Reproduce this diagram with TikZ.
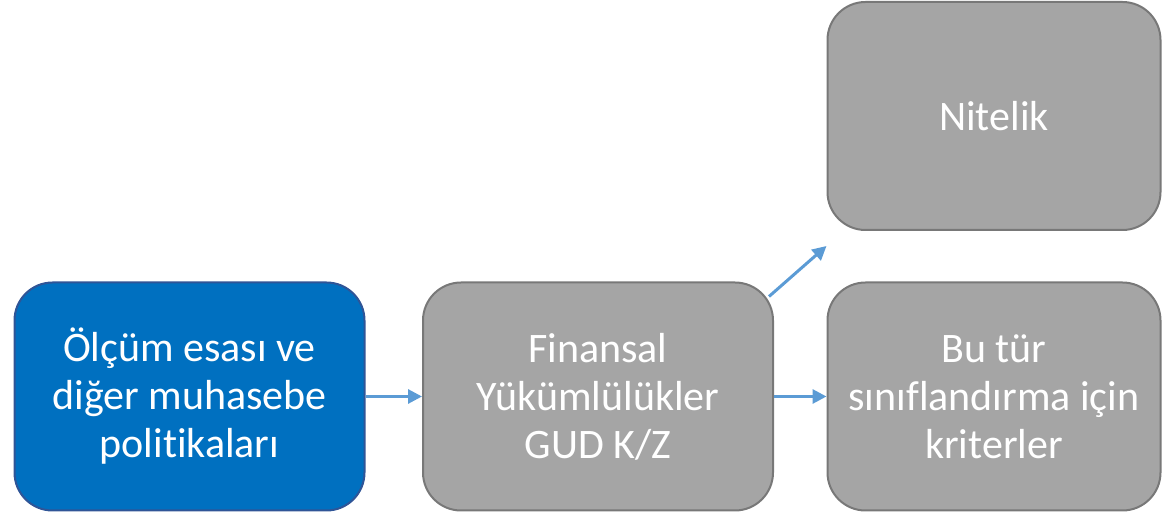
\documentclass[tikz,border=0pt]{standalone}
\usepackage{fontspec}
\setmainfont{Carlito}[Ligatures={NoCommon}]
\usetikzlibrary{arrows.meta}
\definecolor{bluefill}{HTML}{0070C0}
\definecolor{blueline}{HTML}{2F5597}
\definecolor{grayfill}{HTML}{A5A5A5}
\definecolor{grayline}{HTML}{787878}
\definecolor{arrowblue}{HTML}{5B9BD5}
\tikzset{
  box/.style={rounded corners=38pt, line width=2pt, minimum height=228pt, align=center,
    text=white, font=\fontsize{42}{48}\selectfont, inner sep=0pt},
  bluebox/.style={box, fill=bluefill, draw=blueline, minimum width=350pt},
  graybox/.style={box, fill=grayfill, draw=grayline},
  conn/.style={draw=arrowblue, line width=3pt, -{Triangle[length=14pt,width=14pt]}}
}
\begin{document}
\begin{tikzpicture}[x=1pt,y=1pt]
\useasboundingbox (0,0) rectangle (1162,513);
\node[bluebox] (A) at (189.5,116.5) {Ölçüm esası ve\\diğer muhasebe\\politikaları};
\node[graybox, minimum width=350pt] (B) at (598,116.5) {Finansal\\Yükümlülükler\\GUD K/Z};
\node[graybox, minimum width=333pt] (C) at (994,397) {Nitelik};
\node[graybox, minimum width=333pt] (D) at (994,116.5) {Bu tür\\sınıflandırma için\\kriterler};
\draw[conn] (A.east) -- (B.west);
\draw[conn] (B.east) -- (D.west);
\draw[conn] ([xshift=-5pt,yshift=-15pt]B.north east) -- ([yshift=-15pt]C.south west);
\end{tikzpicture}
\end{document}
